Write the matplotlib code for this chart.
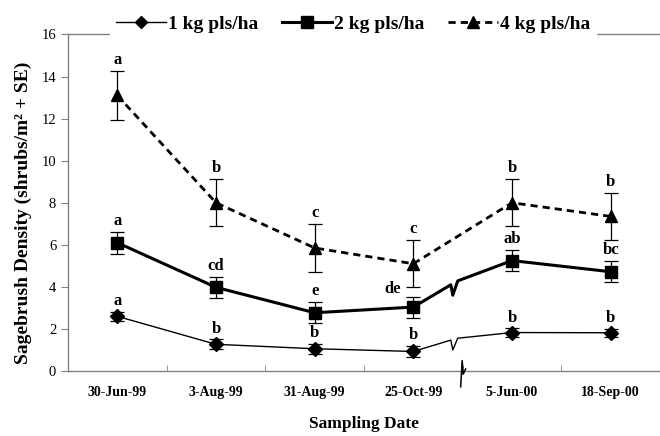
import matplotlib.pyplot as plt
import numpy as np

dates = ['30-Jun-99', '3-Aug-99', '31-Aug-99', '25-Oct-99', '5-Jun-00', '18-Sep-00']

kg1 = [2.6, 1.27, 1.06, 0.93, 1.83, 1.82]
kg1_se = [0.23, 0.23, 0.23, 0.25, 0.2, 0.2]
kg1_letters = ['a', 'b', 'b', 'b', 'b', 'b']

kg2 = [6.1, 3.98, 2.77, 3.04, 5.25, 4.72]
kg2_se = [0.52, 0.5, 0.5, 0.5, 0.5, 0.5]
kg2_letters = ['a', 'cd', 'e', 'de', 'ab', 'bc']

kg4 = [13.1, 8.0, 5.85, 5.1, 8.0, 7.35]
kg4_se = [1.15, 1.12, 1.13, 1.12, 1.12, 1.12]
kg4_letters = ['a', 'b', 'c', 'c', 'b', 'b']

plt.rcParams['font.family'] = ['Liberation Serif', 'DejaVu Serif']

fig = plt.figure(figsize=(6.6, 4.36), dpi=100)
ax = fig.add_axes([0.103, 0.149, 0.897, 0.772])

x = np.arange(len(dates))
brk = 3  # break sits between index 3 and 4


def broken_path(y, f):
    # zigzag break on the connecting segment between 25-Oct-99 and 5-Jun-00
    y0, y1 = y[brk], y[brk + 1]
    line = lambda xx: y0 + (y1 - y0) * (xx - brk)
    xa = brk + 0.38
    px = [xa, xa + 0.02, xa + 0.07]
    py = [line(px[0]) + 0.22 * f, line(px[1]) - 0.32 * f, line(px[2]) + 0.25 * f]
    xs = list(x[:brk + 1]) + px + list(x[brk + 1:])
    ys = list(y[:brk + 1]) + py + list(y[brk + 1:])
    return xs, ys


series = [
    (kg1, kg1_se, kg1_letters, 'D', 7, 1.0, '-', 0.9),
    (kg2, kg2_se, kg2_letters, 's', 9, 2.2, '-', 1.0),
    (kg4, kg4_se, kg4_letters, '^', 9, 2.0, '--', 0),
]

handles = []
for vals, se, letters, mk, ms, lw, ls, f in series:
    if f > 0:
        xs, ys = broken_path(vals, f)
    else:
        xs, ys = x, vals
    line, = ax.plot(xs, ys, color='black', lw=lw, ls=ls, zorder=3)
    if ls == '--':
        line.set_dashes((2.6, 1.8))
    ax.errorbar(x, vals, yerr=se, fmt='none', ecolor='black', elinewidth=0.9,
                capsize=5, capthick=0.9, zorder=3)
    ax.plot(x, vals, ls='none', marker=mk, ms=ms, color='black', zorder=4)
    h, = ax.plot([], [], color='black', lw=lw, ls=ls, marker=mk, ms=ms - 1)
    if ls == '--':
        h.set_dashes((2.6, 1.8))
    handles.append(h)
    for i, (v, e, t) in enumerate(zip(vals, se, letters)):
        off = (-15, 0) if t == 'de' else (0, 2)
        ax.annotate(t, (x[i], v + e), xytext=off, textcoords='offset points',
                    ha='center', va='bottom', fontsize=12, fontweight='bold')

# break mark on the x axis
ax.plot([3.48, 3.495, 3.505, 3.53], [-0.75, 0.5, -0.15, 0.1], color='black', lw=1.1,
        clip_on=False, zorder=5)

ax.set_xlim(-0.5, 5.5)
ax.set_ylim(0, 16)
ax.set_yticks(np.arange(0, 17, 2))
ax.set_xticks(x)
ax.set_xticklabels(dates, fontsize=10, fontweight='bold')
ax.set_xticks(np.arange(0.5, 5, 1), minor=True)
ax.tick_params(axis='x', which='major', length=0, pad=11)
ax.tick_params(axis='x', which='minor', direction='in', length=4, color='gray')
ax.tick_params(axis='y', direction='out', length=5, color='gray', labelsize=10.5)

for s in ['left', 'bottom', 'top']:
    ax.spines[s].set_color('gray')
    ax.spines[s].set_linewidth(1.0)
ax.spines['right'].set_visible(False)

ax.set_ylabel('Sagebrush Density (shrubs/m² + SE)', fontsize=14,
              fontweight='bold', labelpad=7)
ax.yaxis.label.set_y(0.47)
ax.set_xlabel('Sampling Date', fontsize=12.5, fontweight='bold', labelpad=12)

leg = ax.legend(handles, ['1 kg pls/ha', '2 kg pls/ha', '4 kg pls/ha'],
                loc='center', bbox_to_anchor=(0.535, 0.945), bbox_transform=fig.transFigure,
                ncol=3, frameon=True, fancybox=False, framealpha=1, edgecolor='white',
                prop={'size': 14, 'weight': 'bold'}, handlelength=2.6,
                handletextpad=0.1, columnspacing=1.2, borderpad=0.3)
leg.set_zorder(10)

fig.savefig('out.png', dpi=100)
